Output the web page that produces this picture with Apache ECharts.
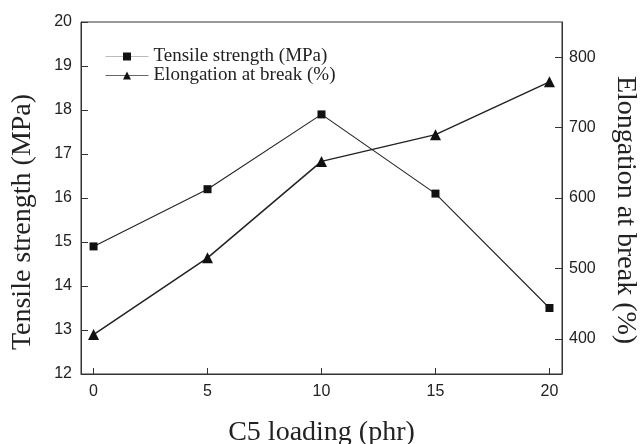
<!DOCTYPE html>
<html>
<head>
<meta charset="utf-8">
<script src="https://cdn.jsdelivr.net/npm/echarts@6/dist/echarts.min.js"></script>
<style>html,body{margin:0;padding:0;background:#fff}#c{width:640px;height:444px}</style>
</head>
<body>
<div id="c"></div>
<script>
const loading = [0, 5, 10, 15, 20];
const tensile = [14.9, 16.2, 17.9, 16.1, 13.5];
const elongation = [406, 515, 652, 690, 765];
const xTicks = [0, 5, 10, 15, 20];
const rightTicks = [400, 500, 600, 700, 800];
const seriesNames = ['Tensile strength (MPa)', 'Elongation at break (%)'];

const chart = echarts.init(document.getElementById('c'), null, {renderer: 'canvas'});
const tickFont = {fontFamily: 'Liberation Sans', fontSize: 16, color: '#222'};
const titleFont = {fontFamily: 'Liberation Serif', fontSize: 28, color: '#222'};
chart.setOption({
  animation: false,
  backgroundColor: '#fff',
  grid: {left: 81, right: 78, top: 22, bottom: 70, show: true, borderColor: '#333', borderWidth: 1,
         containLabel: false, outerBoundsMode: 'none'},
  legend: {
    orient: 'vertical', left: 100, top: 42, itemWidth: 43, itemHeight: 10, itemGap: 0,
    textStyle: {fontFamily: 'Liberation Serif', fontSize: 19, color: '#222', lineHeight: 17},
    data: [
      {name: seriesNames[0], lineStyle: {color: '#bbb', width: 1}},
      {name: seriesNames[1], lineStyle: {color: '#666', width: 1}}
    ]
  },
  xAxis: {
    type: 'value', min: -0.55, max: 20.55,
    name: 'C5 loading (phr)', nameLocation: 'middle', nameGap: 45, nameTextStyle: titleFont,
    axisLine: {onZero: false, lineStyle: {color: '#333'}},
    axisTick: {inside: true, length: 6, customValues: xTicks, lineStyle: {color: '#333'}},
    axisLabel: {customValues: xTicks, margin: 10, ...tickFont},
    splitLine: {show: false}
  },
  yAxis: [
    {
      type: 'value', min: 12, max: 20, interval: 1, position: 'left',
      name: 'Tensile strength (MPa)', nameLocation: 'middle', nameGap: 44, nameRotate: 90,
      nameTextStyle: {...titleFont, padding: [0, 48, 0, 0]},
      axisLine: {show: true, onZero: false, lineStyle: {color: '#333'}},
      axisTick: {inside: true, length: 7, lineStyle: {color: '#333'}},
      axisLabel: {margin: 9, ...tickFont},
      splitLine: {show: false}
    },
    {
      type: 'value', min: 350, max: 850, position: 'right',
      name: 'Elongation at break (%)', nameLocation: 'middle', nameGap: 49, nameRotate: -90,
      nameTextStyle: {...titleFont, padding: [0, 0, 0, 24]},
      axisLine: {show: true, onZero: false, lineStyle: {color: '#333'}},
      axisTick: {inside: true, length: 7, customValues: rightTicks, lineStyle: {color: '#333'}},
      axisLabel: {customValues: rightTicks, margin: 7, ...tickFont},
      splitLine: {show: false}
    }
  ],
  series: [
    {
      name: seriesNames[0], type: 'line', yAxisIndex: 0,
      data: loading.map((x, i) => [x, tensile[i]]),
      symbol: 'rect', symbolSize: 8,
      lineStyle: {color: '#222', width: 1.1}, itemStyle: {color: '#111'}
    },
    {
      name: seriesNames[1], type: 'line', yAxisIndex: 1,
      data: loading.map((x, i) => [x, elongation[i]]),
      symbol: 'triangle', symbolSize: 11,
      lineStyle: {color: '#222', width: 1.5}, itemStyle: {color: '#111'}
    }
  ]
});
</script>
</body>
</html>
